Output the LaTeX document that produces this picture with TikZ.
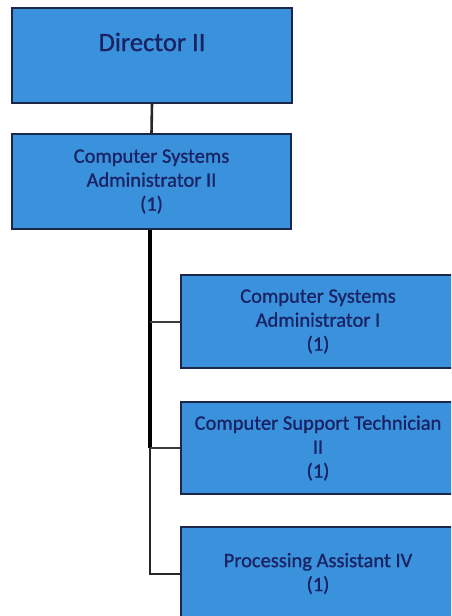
\documentclass[tikz,border=0pt]{standalone}
\usepackage{fontspec}
\setmainfont{Carlito}[FakeBold=0.9]
\definecolor{boxfill}{RGB}{58,146,220}
\definecolor{boxline}{RGB}{28,38,72}
\definecolor{boxtext}{RGB}{26,34,100}
\definecolor{linkgray}{RGB}{60,60,60}
\tikzset{
  orgbox/.style={draw=boxline, line width=1.6pt, fill=boxfill, rectangle,
    inner sep=0pt, align=center, text=boxtext,
    font=\fontsize{20.5pt}{24pt}\selectfont},
  toptext/.style={inner sep=0pt, text=boxtext, font=\fontsize{26.5pt}{30pt}\selectfont},
  trunkthick/.style={draw=black, line width=3.2pt},
  trunkthin/.style={draw=black!85, line width=2pt},
  branch/.style={draw=linkgray, line width=2pt}
}
\begin{document}
\begin{tikzpicture}[x=1pt, y=1pt]
  \useasboundingbox (0,0) rectangle (451,-616);
  \fill[white] (0,0) rectangle (451,-616);
  \clip (0,0) rectangle (451,-616);

  % top two levels
  \node[orgbox, minimum width=280pt, minimum height=95pt] (dir) at (152,-55.5) {};
  \node[toptext] (dirt) at ([yshift=13.5pt]dir.center) {Director II};
  \node[orgbox, minimum width=279pt, minimum height=95pt] (csa2) at (151.5,-181.5)
    {Computer Systems\\Administrator II\\(1)};

  % staff boxes (they run past the right and bottom edges)
  \node[orgbox, minimum width=274pt, minimum height=93pt] (csa1) at (318,-321.5)
    {Computer Systems\\Administrator I\\(1)};
  \node[orgbox, minimum width=274pt, minimum height=92pt] (cst) at (318,-448)
    {Computer Support Technician\\II\\(1)};
  \node[orgbox, minimum width=274pt, minimum height=93pt] (pa) at (318,-573.5)
    {Processing Assistant IV\\(1)};

  % connectors
  \draw[trunkthin, line width=2.6pt] (dir.south) -- (csa2.north);
  \coordinate (trunktop) at ([xshift=-1.5pt]csa2.south);
  \draw[trunkthick] (trunktop) -- (trunktop |- cst.west);
  \draw[trunkthin] (trunktop |- cst.west) -- (trunktop |- pa.west) -- (pa.west);
  \draw[branch] (trunktop |- csa1.west) -- (csa1.west);
  \draw[branch] (trunktop |- cst.west) -- (cst.west);
\end{tikzpicture}
\end{document}
